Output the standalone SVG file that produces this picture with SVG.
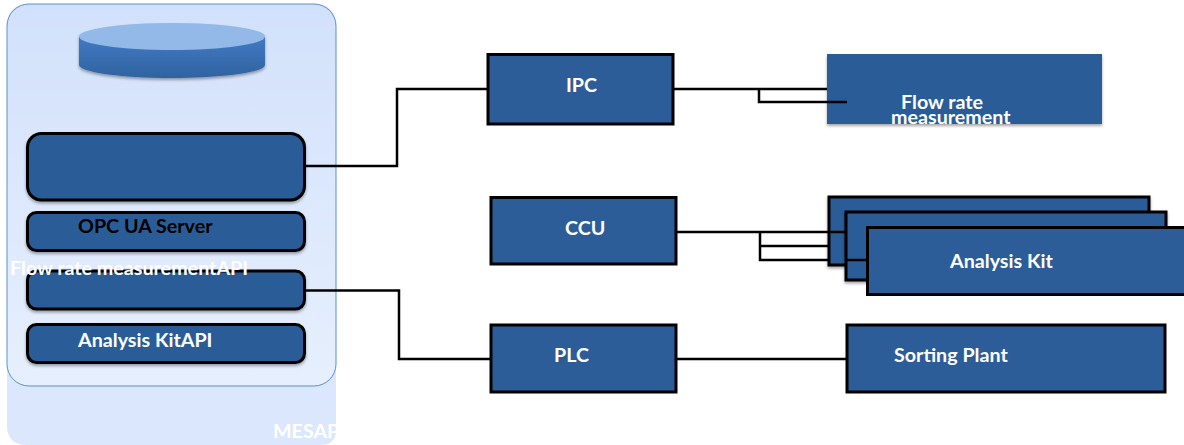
<svg xmlns="http://www.w3.org/2000/svg" width="1184" height="445" viewBox="0 0 1184 445">
<style>
.b{fill:#2c5d98;stroke:#000;stroke-width:3}
.r{fill:#2c5d98;stroke:#000;stroke-width:3;filter:url(#s)}
.t{font-family:"Lato","Carlito","Open Sans",sans-serif;font-weight:700;font-size:19.700px;fill:#fff}
.c{fill:none;stroke:#000;stroke-width:2.500}
</style>
<defs>
<linearGradient id="g" x1="0" y1="0" x2="0" y2="1"><stop offset="0" stop-color="#d2e1fb"/><stop offset="1" stop-color="#e6effd"/></linearGradient>
<linearGradient id="cy" x1="0" y1="0" x2="0" y2="1"><stop offset="0" stop-color="#4279c4"/><stop offset="1" stop-color="#2f639f"/></linearGradient>
<filter id="s" x="-5%" y="-10%" width="110%" height="125%"><feDropShadow dx="0" dy="2" stdDeviation="1.500" flood-color="#000" flood-opacity=".35"/></filter>
</defs>
<g id="mes">
<path d="M7 380V26Q7 4 29 4H314Q336 4 336 26V430Q336 445 320 445H27Q7 445 7 425Z" fill="#dbe7fc"/>
<rect x="7" y="4" width="329" height="382" rx="22" fill="url(#g)" stroke="#5b8fcf" stroke-width="1"/>
<text class="t" x="273" y="438">MESAP</text>
<rect x="336" y="420" width="30" height="25" fill="#fff"/>
</g>
<g id="database" filter="url(#s)">
<path d="M79 37V65C79 72 120 78 172 78S265 72 265 65V37Z" fill="url(#cy)"/>
<ellipse cx="172" cy="36.500" rx="93" ry="13.500" fill="#92b9e7"/>
</g>
<g id="connectors">
<path class="c" d="M305 166H397V89H488"/>
<path class="c" d="M305 290.500H399V359H491"/>
<path class="c" d="M673 89H827M759 89V102H847"/>
<path class="c" d="M676 232H828M760 232V260H867M760 246H846"/>
<path class="c" d="M676 359H847"/>
</g>
<g id="opc"><rect class="r" x="27.500" y="133.500" width="277" height="66.500" rx="14"/></g>
<g id="opc-server"><rect class="r" x="27.500" y="212.500" width="277" height="38" rx="9"/><text class="t" x="78" y="233" style="fill:#000">OPC UA Server</text></g>
<g id="flow-api"><rect class="r" x="27.500" y="271" width="277" height="38" rx="9"/><text class="t" x="10" y="275">Flow rate measurementAPI</text></g>
<g id="kit-api"><rect class="r" x="27.500" y="324.500" width="277" height="38" rx="9"/><text class="t" x="78" y="347">Analysis KitAPI</text></g>
<g id="ipc"><rect class="b" x="488" y="54.500" width="185" height="69.500"/><text class="t" x="566" y="92">IPC</text></g>
<g id="flow"><rect x="827" y="54" width="275" height="70" fill="#2c5d98" filter="url(#s)"/><path class="c" d="M827 102H847"/><text class="t" x="901" y="109">Flow rate</text><text class="t" x="891" y="124">measurement</text></g>
<g id="ccu"><rect class="b" x="491" y="197.500" width="185" height="66.500"/><text class="t" x="565" y="235">CCU</text></g>
<g id="kit-1"><rect class="r" x="829" y="197" width="320" height="68"/><path class="c" d="M829 232H846"/></g>
<g id="kit-2"><rect class="r" x="846" y="212" width="320" height="68"/><path class="c" d="M846 260H867"/></g>
<g id="kit-3"><rect class="b" x="867.500" y="227.500" width="330" height="67"/><text class="t" x="950" y="268">Analysis Kit</text></g>
<g id="plc"><rect class="b" x="491" y="325" width="185" height="67"/><text class="t" x="554" y="362">PLC</text></g>
<g id="sorting"><rect class="b" x="847" y="325" width="318" height="67"/><text class="t" x="894" y="362">Sorting Plant</text></g>
</svg>
